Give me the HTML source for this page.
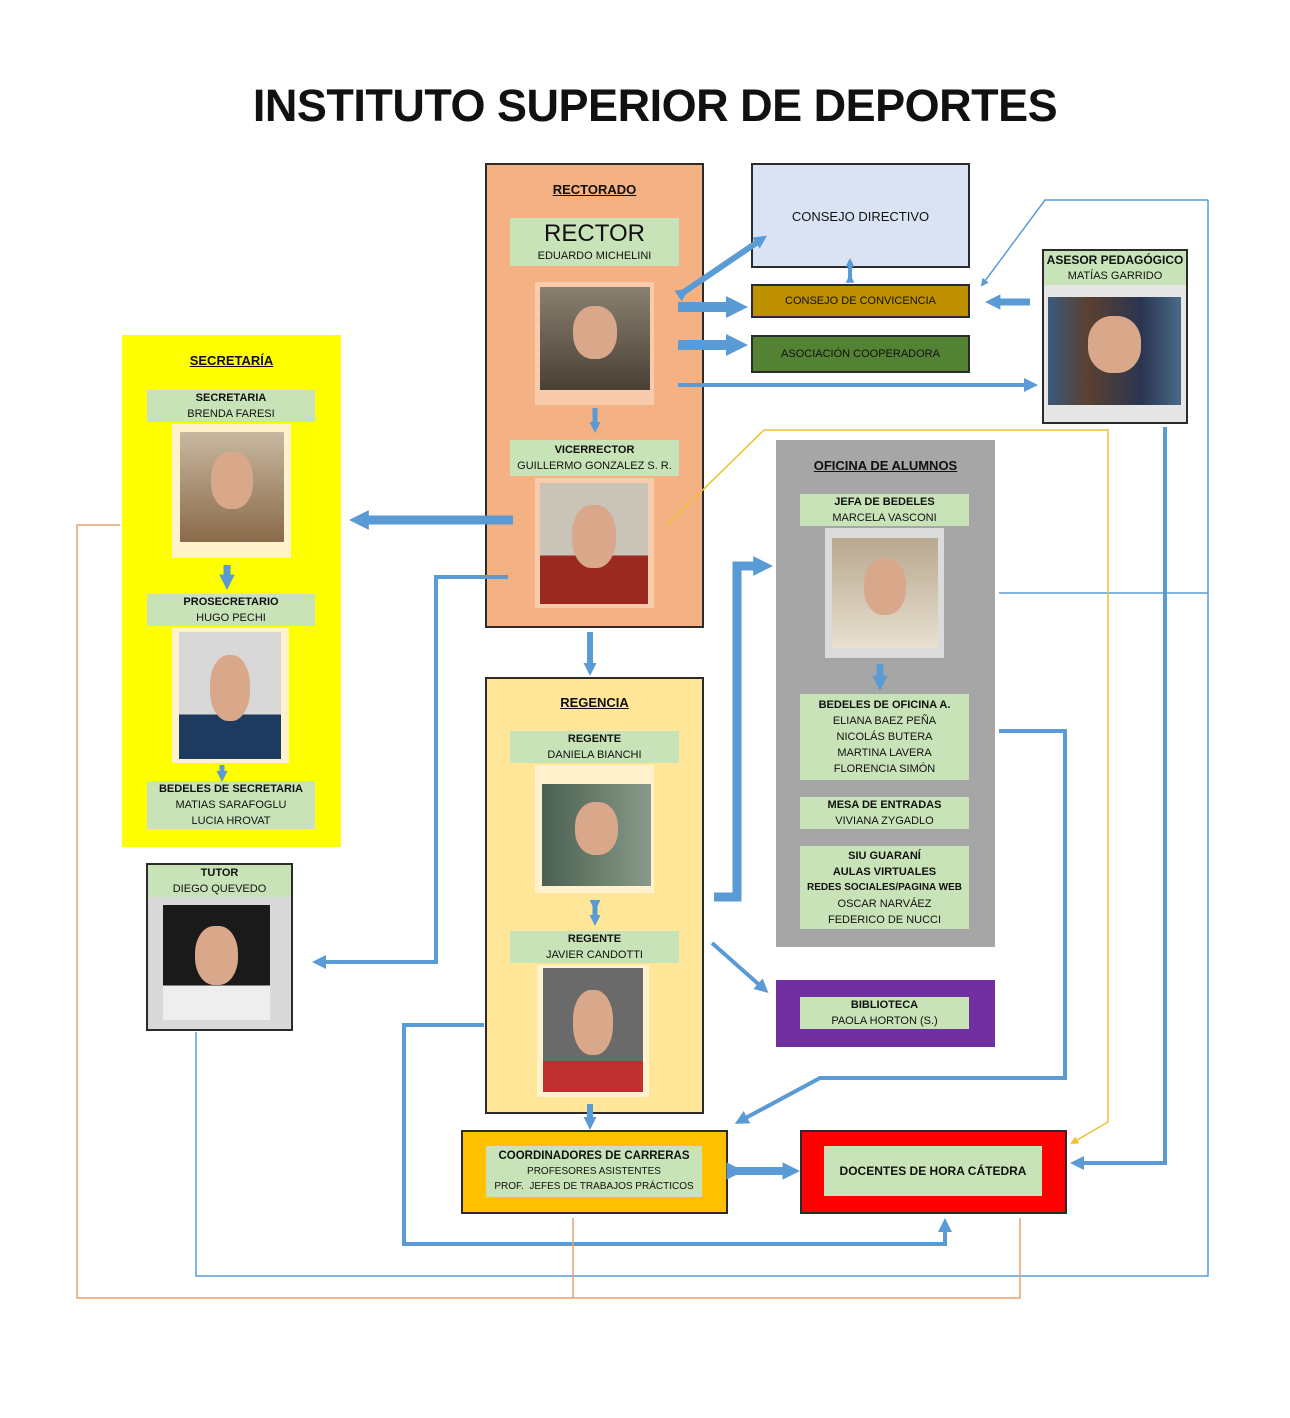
<!DOCTYPE html>
<html><head><meta charset="utf-8"><style>
body{margin:0;width:1290px;height:1418px;background:#fff;position:relative;font-family:"Liberation Sans",sans-serif;overflow:hidden}
.a{position:absolute;box-sizing:border-box}
.b{border:2px solid #2b2b2b}
.g{position:absolute;background:#c9e3b8;text-align:center;color:#111;font-size:11px;line-height:16px;display:flex;flex-direction:column;justify-content:center}
.t{position:absolute;text-align:center;font-weight:bold;text-decoration:underline;font-size:13px;color:#111}
.f{position:absolute}
.p{position:absolute;background:linear-gradient(#6b5a4a,#3a3028)}
.p::after{content:"";position:absolute;left:30%;top:18%;width:40%;height:52%;border-radius:45%;background:#d9a88a}
.c{position:absolute;text-align:center;font-size:12px;color:#111;display:flex;align-items:center;justify-content:center}
b{font-weight:bold}
</style></head><body>
<div class="a" style="left:0;top:80px;width:1310px;text-align:center;font-size:45px;font-weight:bold;color:#111;letter-spacing:-0.5px">INSTITUTO SUPERIOR DE DEPORTES</div>

<!-- Rectorado -->
<div class="a b" style="left:485px;top:163px;width:219px;height:465px;background:#f4b183"></div>
<div class="t" style="left:485px;top:182px;width:219px">RECTORADO</div>
<div class="g" style="left:510px;top:218px;width:169px;height:48px"><span style="font-size:24px;line-height:28px">RECTOR</span><span>EDUARDO MICHELINI</span></div>
<div class="f" style="left:535px;top:282px;width:119px;height:123px;background:#f8cbad"></div>
<div class="p" style="left:540px;top:287px;width:110px;height:103px;background:linear-gradient(#8a8070,#4a3f35)"></div>
<div class="g" style="left:510px;top:440px;width:169px;height:36px"><b>VICERRECTOR</b>GUILLERMO GONZALEZ S. R.</div>
<div class="f" style="left:535px;top:478px;width:119px;height:130px;background:#f8cbad"></div>
<div class="p" style="left:540px;top:483px;width:108px;height:121px;background:linear-gradient(#c9c3b8 60%,#9a2a20 60%)"></div>

<div class="a b c" style="left:751px;top:163px;width:219px;height:105px;background:#dae3f3;font-size:13px;align-items:flex-start;padding-top:44px">CONSEJO DIRECTIVO</div>
<div class="a b c" style="left:751px;top:284px;width:219px;height:34px;background:#bf9000;font-size:11px">CONSEJO DE CONVICENCIA</div>
<div class="a b c" style="left:751px;top:335px;width:219px;height:38px;background:#548235;font-size:11px">ASOCIACIÓN COOPERADORA</div>

<div class="a b" style="left:1042px;top:249px;width:146px;height:175px;background:#e7e6e6"></div>
<div class="g" style="left:1044px;top:251px;width:142px;height:34px;align-items:center"><b style="font-size:12px">ASESOR PEDAGÓGICO</b>MATÍAS GARRIDO</div>
<div class="p" style="left:1048px;top:297px;width:133px;height:108px;background:linear-gradient(90deg,#3a5a7a,#5a4030 30%,#2a3550 70%,#4a6a8a)"></div>

<!-- Secretaria -->
<div class="a" style="left:122px;top:335px;width:219px;height:512px;background:#ffff00"></div>
<div class="t" style="left:122px;top:353px;width:219px">SECRETARÍA</div>
<div class="g" style="left:147px;top:390px;width:168px;height:32px"><b>SECRETARIA</b>BRENDA FARESI</div>
<div class="f" style="left:172px;top:424px;width:119px;height:134px;background:#fff2cc"></div>
<div class="p" style="left:180px;top:432px;width:104px;height:110px;background:linear-gradient(#c8b8a0,#8a6a4a)"></div>
<div class="g" style="left:147px;top:594px;width:168px;height:32px"><b>PROSECRETARIO</b>HUGO PECHI</div>
<div class="f" style="left:172px;top:628px;width:117px;height:135px;background:#fff2cc"></div>
<div class="p" style="left:179px;top:632px;width:102px;height:127px;background:linear-gradient(#d8d8d8 65%,#1f3a5f 65%)"></div>
<div class="g" style="left:147px;top:781px;width:168px;height:48px"><b>BEDELES DE SECRETARIA</b>MATIAS SARAFOGLU<br>LUCIA HROVAT</div>

<!-- Tutor -->
<div class="a b" style="left:146px;top:863px;width:147px;height:168px;background:#d9d9d9"></div>
<div class="g" style="left:148px;top:865px;width:143px;height:32px"><b>TUTOR</b>DIEGO QUEVEDO</div>
<div class="p" style="left:163px;top:905px;width:107px;height:115px;background:linear-gradient(#1a1a1a 70%,#eee 70%)"></div>

<!-- Oficina -->
<div class="a" style="left:776px;top:440px;width:219px;height:507px;background:#a6a6a6"></div>
<div class="t" style="left:776px;top:458px;width:219px">OFICINA DE ALUMNOS</div>
<div class="g" style="left:800px;top:494px;width:169px;height:32px"><b>JEFA DE BEDELES</b>MARCELA VASCONI</div>
<div class="f" style="left:825px;top:528px;width:119px;height:130px;background:#dbdbdb"></div>
<div class="p" style="left:832px;top:538px;width:106px;height:110px;background:linear-gradient(#b8a890,#e8e0d0)"></div>
<div class="g" style="left:800px;top:694px;width:169px;height:86px"><b>BEDELES DE OFICINA A.</b>ELIANA BAEZ PEÑA<br>NICOLÁS BUTERA<br>MARTINA LAVERA<br>FLORENCIA SIMÓN</div>
<div class="g" style="left:800px;top:797px;width:169px;height:32px"><b>MESA DE ENTRADAS</b>VIVIANA ZYGADLO</div>
<div class="g" style="left:800px;top:846px;width:169px;height:83px"><b>SIU GUARANÍ</b><b>AULAS VIRTUALES</b><b style="font-size:10px">REDES SOCIALES/PAGINA WEB</b>OSCAR NARVÁEZ<br>FEDERICO DE NUCCI</div>

<div class="a" style="left:776px;top:980px;width:219px;height:67px;background:#7030a0"></div>
<div class="g" style="left:800px;top:997px;width:169px;height:32px"><b>BIBLIOTECA</b>PAOLA HORTON (S.)</div>

<!-- Regencia -->
<div class="a b" style="left:485px;top:677px;width:219px;height:437px;background:#ffe699"></div>
<div class="t" style="left:485px;top:695px;width:219px">REGENCIA</div>
<div class="g" style="left:510px;top:731px;width:169px;height:32px"><b>REGENTE</b>DANIELA BIANCHI</div>
<div class="f" style="left:535px;top:765px;width:119px;height:128px;background:#fff2cc"></div>
<div class="p" style="left:542px;top:784px;width:109px;height:102px;background:linear-gradient(90deg,#4a6050,#8a9a8a)"></div>
<div class="g" style="left:510px;top:931px;width:169px;height:32px"><b>REGENTE</b>JAVIER CANDOTTI</div>
<div class="f" style="left:537px;top:965px;width:112px;height:132px;background:#fff2cc"></div>
<div class="p" style="left:543px;top:968px;width:100px;height:124px;background:linear-gradient(#6a6a6a 75%,#c03030 75%)"></div>

<div class="a b" style="left:461px;top:1130px;width:267px;height:84px;background:#ffc000"></div>
<div class="g" style="left:486px;top:1146px;width:216px;height:51px;font-size:10px;line-height:15px"><b style="font-size:11.5px">COORDINADORES DE CARRERAS</b>PROFESORES ASISTENTES<br>PROF.&nbsp; JEFES DE TRABAJOS PRÁCTICOS</div>
<div class="a b" style="left:800px;top:1130px;width:267px;height:84px;background:#ff0000"></div>
<div class="g" style="left:824px;top:1146px;width:218px;height:50px"><b style="font-size:12px">DOCENTES DE HORA CÁTEDRA</b></div>

<svg class="a" style="left:0;top:0" width="1290" height="1418">
<defs>
<marker id="m" markerWidth="2.2" markerHeight="2.2" refX="1.2" refY="1.1" orient="auto" markerUnits="strokeWidth"><path d="M0,0L2.2,1.1L0,2.2z" fill="#5b9bd5"/></marker>
<marker id="t" markerWidth="3.5" markerHeight="3.5" refX="2" refY="1.75" orient="auto" markerUnits="strokeWidth"><path d="M0,0L3.5,1.75L0,3.5z" fill="#5b9bd5"/></marker>
<marker id="s" markerWidth="8" markerHeight="8" refX="6" refY="4" orient="auto" markerUnits="userSpaceOnUse"><path d="M0,0L8,4L0,8z" fill="#5b9bd5"/></marker>
<marker id="y" markerWidth="8" markerHeight="8" refX="6" refY="4" orient="auto" markerUnits="userSpaceOnUse"><path d="M0,0L8,4L0,8z" fill="#f0c030"/></marker>
</defs>
<g fill="none" stroke="#5b9bd5">
<path d="M684,292L762,239" stroke-width="6" marker-end="url(#m)" marker-start="url(#m)"/>
<path d="M678,307H738" stroke-width="10" marker-end="url(#m)"/>
<path d="M678,345H738" stroke-width="10" marker-end="url(#m)"/>
<path d="M678,385H1032" stroke-width="4" marker-end="url(#t)"/>
<path d="M1030,302H992" stroke-width="7" marker-end="url(#m)"/>
<path d="M850,278V262" stroke-width="4" marker-end="url(#m)" marker-start="url(#m)"/>
<path d="M1208,200H1045L982,285" stroke-width="1.5" marker-end="url(#s)"/>
<path d="M595,408V428" stroke-width="5" marker-end="url(#m)"/>
<path d="M513,520H358" stroke-width="9" marker-end="url(#m)"/>
<path d="M508,577H436V962H318" stroke-width="4" marker-end="url(#t)"/>
<path d="M590,632V670" stroke-width="6" marker-end="url(#m)"/>
<path d="M227,565V583" stroke-width="7" marker-end="url(#m)"/>
<path d="M222,765V777" stroke-width="5" marker-end="url(#m)"/>
<path d="M880,664V684" stroke-width="7" marker-end="url(#m)"/>
<path d="M595,906V921" stroke-width="5" marker-end="url(#m)" marker-start="url(#m)"/>
<path d="M714,897H737V566H764" stroke-width="9" marker-end="url(#m)"/>
<path d="M712,943L764,989" stroke-width="4" marker-end="url(#t)"/>
<path d="M999,731H1065V1078H820L740,1121" stroke-width="4" marker-end="url(#t)"/>
<path d="M1165,427V1163H1076" stroke-width="4" marker-end="url(#t)"/>
<path d="M999,593H1208M1208,200V1276H196V1032" stroke-width="1.5"/>
<path d="M736,1171H792" stroke-width="8" marker-end="url(#m)" marker-start="url(#m)"/>
<path d="M590,1104V1124" stroke-width="6" marker-end="url(#m)"/>
<path d="M484,1025H404V1244H945V1224" stroke-width="4" marker-end="url(#t)"/>
</g>
<path d="M667,525L764,430H1108V1122L1072,1143" fill="none" stroke="#f0c030" stroke-width="1.5" marker-end="url(#y)"/>
<path d="M120,525H77V1298H1020V1218M573,1218V1298" fill="none" stroke="#e8a070" stroke-width="1.5"/>
</svg>
</body></html>
